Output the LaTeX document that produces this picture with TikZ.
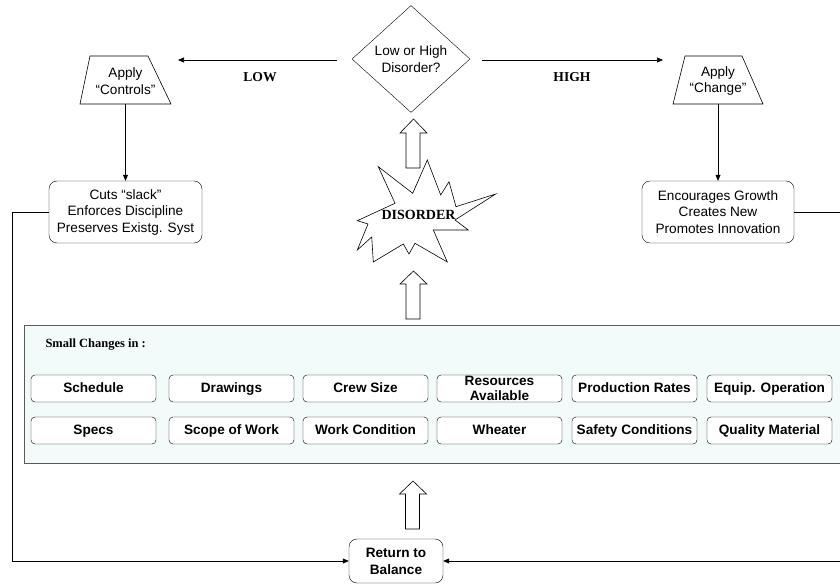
\documentclass[tikz,border=0pt]{standalone}
\usepackage{fontspec}
\setmainfont{Liberation Sans}
\newfontfamily\timesf{Liberation Serif}
\usetikzlibrary{shapes.geometric,arrows.meta}
\definecolor{panelfill}{RGB}{243,250,250}
\tikzset{
  txt/.style={font=\fontsize{13.6}{16.5}\selectfont, align=center},
  bigbox/.style={txt, draw, rounded corners=8pt, inner sep=0pt},
  smallbox/.style={draw, fill=white, rounded corners=4pt, minimum width=125pt, minimum height=27pt, inner sep=0pt, align=center, text height=10pt, text depth=3pt, font=\fontsize{13.6}{14.5}\selectfont\bfseries},
  traptext/.style={txt, minimum width=91pt, minimum height=48pt, inner sep=0pt},
  trapline/.style={draw, line width=0.6pt},
  conn/.style={-{Triangle[length=6pt,width=5pt]}, line width=0.6pt},
  plain/.style={line width=0.6pt},
  serifbold/.style={font=\fontsize{13.6}{15}\selectfont\timesf\bfseries},
  blockarrow/.style={draw, fill=white, line width=0.6pt}
}
\begin{document}
\begin{tikzpicture}[x=1pt,y=-1pt]
\clip (0,0) rectangle (840,585);
\fill[white] (0,0) rectangle (840,585);

% decision diamond
\node[txt, draw, diamond, minimum width=118pt, minimum height=107pt, inner sep=0pt] (dec) at (411,59) {Low or High\\Disorder?};

% trapezia
\draw[trapline] (80,104) -- (171,104) -- (148,56) -- (90,56) -- cycle;
\node[traptext] (ctrl) at (125.5,81) {Apply\\“Controls”};
\draw[trapline] (673,104) -- (763,104) -- (742,56) -- (685,56) -- cycle;
\node[traptext] (chg) at (718,81) {Apply\\“Change”};
\coordinate (ctrlbot) at (125.5,104);
\coordinate (chgbot) at (718,104);

% outcome boxes
\node[bigbox, minimum width=153pt, minimum height=62pt] (cuts) at (125.5,212) {Cuts “slack”\\Enforces Discipline\\Preserves Existg. Syst};
\node[bigbox, minimum width=152pt, minimum height=62pt] (enc) at (718,212) {Encourages Growth\\Creates New\\Promotes Innovation};

% connectors from diamond
\coordinate (lowstart) at (337,60);
\coordinate (lowend) at (178,60);
\coordinate (highstart) at (482,60);
\coordinate (highend) at (663,60);
\draw[conn] (lowstart) -- (lowend);
\draw[conn] (highstart) -- (highend);
\node[serifbold] (lowlbl) at (260,77) {LOW};
\node[serifbold] (highlbl) at (572,77) {HIGH};

\draw[conn] (ctrlbot) -- (cuts.north);
\draw[conn] (chgbot) -- (enc.north);

% disorder star
\draw[plain, fill=white] (427.3,160) -- (440.7,195) -- (449,181.7) -- (456,206.7) -- (495.7,194) -- (455,220) -- (468.3,230) -- (433.3,230) -- (447.3,262) -- (415,243.3) -- (409,254) -- (403.3,244) -- (373.3,262) -- (371.7,237) -- (357.3,250) -- (368,224) -- (357.3,220.7) -- (395,203.3) -- (378.3,166.7) -- (412.7,193.3) -- cycle;
\node[serifbold, font=\fontsize{14}{15}\selectfont\timesf\bfseries] (dis) at (418.5,215) {DISORDER};

% block arrows
\draw[blockarrow] (406,168) -- (406,133) -- (400,133) -- (413.5,119) -- (427,133) -- (420,133) -- (420,168) -- cycle;
\draw[blockarrow] (406,319) -- (406,284) -- (400,284) -- (413.5,271) -- (427,284) -- (420,284) -- (420,319) -- cycle;
\draw[blockarrow] (405.5,529) -- (405.5,494) -- (399.5,494) -- (413,481) -- (426.5,494) -- (419.5,494) -- (419.5,529) -- cycle;

% panel of small changes
\node[draw=black!65, fill=panelfill, line width=0.8pt, minimum width=836pt, minimum height=138pt, inner sep=0pt] (panel) at (442,394) {};
\node[anchor=west, font=\fontsize{12.5}{14}\selectfont\timesf\bfseries] (smalltitle) at (42,345) {Small Changes in :};

\node[smallbox] (b1) at (93.5,388.5) {Schedule};
\node[smallbox] (b2) at (231.5,388.5) {Drawings};
\node[smallbox] (b3) at (365.5,388.5) {Crew Size};
\node[smallbox, text height=, text depth=] (b4) at (499.5,388.5) {\raisebox{-3pt}{\shortstack{Resources\\[1.5pt]Available}}};
\node[smallbox] (b5) at (634.5,388.5) {Production Rates};
\node[smallbox] (b6) at (769.5,388.5) {Equip. Operation};
\node[smallbox] (c1) at (93.5,430.5) {Specs};
\node[smallbox] (c2) at (231.5,430.5) {Scope of Work};
\node[smallbox] (c3) at (365.5,430.5) {Work Condition};
\node[smallbox] (c4) at (499.5,430.5) {Wheater};
\node[smallbox] (c5) at (634.5,430.5) {Safety Conditions};
\node[smallbox] (c6) at (769.5,430.5) {Quality Material};

% return to balance
\node[bigbox, minimum width=94pt, minimum height=44pt, font=\fontsize{13.6}{17}\selectfont\bfseries] (ret) at (396,561) {Return to\\Balance};

\coordinate (leftrail) at (12,0);
\coordinate (rightrail) at (852,0);
\draw[conn] (cuts.west) -| (leftrail |- ret.west) -- (ret.west);
\draw[conn] (enc.east) -| (rightrail |- ret.east) -- (ret.east);
\end{tikzpicture}
\end{document}
